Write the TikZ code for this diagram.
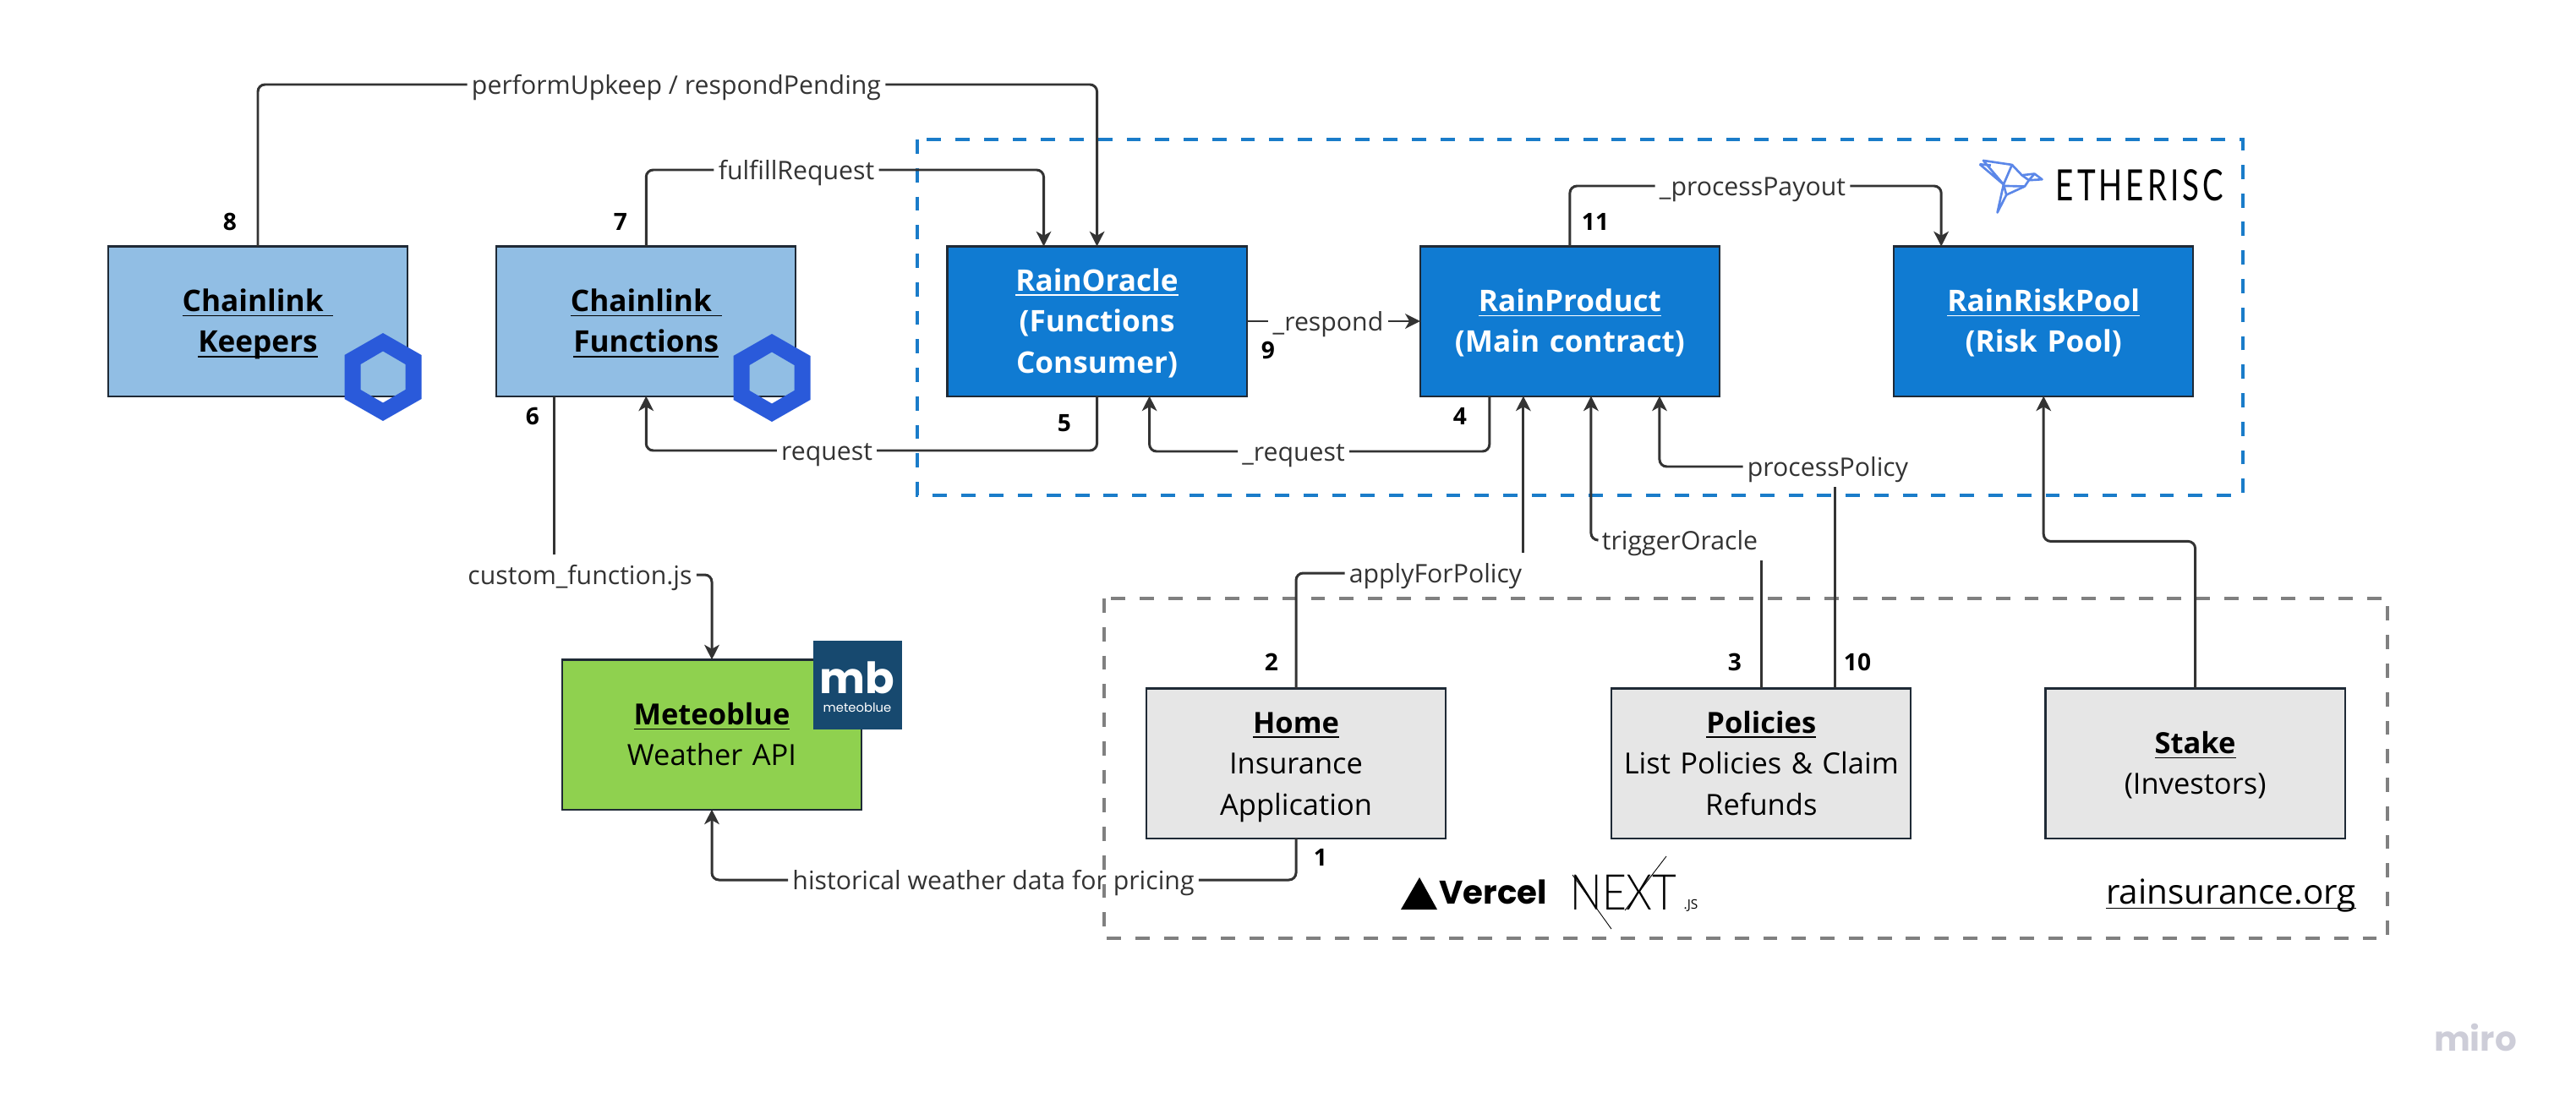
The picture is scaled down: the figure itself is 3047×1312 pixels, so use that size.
\documentclass[tikz,border=0pt]{standalone}
\usepackage{fontspec}
\setmainfont{Open Sans}
\newfontfamily\etherfont[LetterSpace=8,FakeStretch=0.72]{Lato}
\newfontfamily\brandfont{Poppins}
\newfontfamily\nextfont[FakeStretch=0.85]{Lato Light}
\usetikzlibrary{positioning,arrows.meta}
\definecolor{Line}{HTML}{333333}
\definecolor{Edge}{HTML}{1F2A36}
\definecolor{Contract}{HTML}{107BD2}
\definecolor{Chainlink}{HTML}{91BEE4}
\definecolor{Weather}{HTML}{8FD14F}
\definecolor{Site}{HTML}{E6E6E6}
\definecolor{Frame}{HTML}{1A7CC9}
\definecolor{Hex}{HTML}{2A5ADA}
\definecolor{Bird}{HTML}{5B87E8}
\definecolor{Mblue}{HTML}{17496F}
\definecolor{Mark}{HTML}{CDCDD8}
\newcommand{\ulbl}[1]{\underline{\smash{#1}}}

\begin{document}
\begin{tikzpicture}[
  x=0.01cm, y=-0.01cm,
  font=\fontsize{9.8}{13.8}\selectfont,
  box/.style={draw=Edge, line width=0.6pt, inner sep=0pt, outer sep=0pt, align=center, text width=3.54cm, minimum height=1.77cm,
    execute at begin node=\rule{0pt}{10pt}, execute at end node=\rule[-2.8pt]{0pt}{2.8pt}},
  contract/.style={box, fill=Contract, text=white, font=\fontsize{10}{13.8}\selectfont\bfseries},
  oracle/.style={box, fill=Chainlink, font=\fontsize{10}{13.8}\selectfont\bfseries},
  site/.style={box, fill=Site},
  arrow/.style={-{Stealth[length=5pt,width=5pt,inset=1.4pt]}, line width=0.85pt, color=Line, rounded corners=2.4pt},
  wire/.style={line width=0.85pt, color=Line, rounded corners=2.4pt},
  lbl/.style={inner sep=1.5pt, outer sep=0pt, text=Line, text height=8.6pt, text depth=2.2pt, font=\fontsize{8.6}{10}\selectfont},
  num/.style={inner sep=0pt, font=\fontsize{8}{10}\selectfont\bfseries},
  frame/.style={line width=1.3pt, dash pattern=on 4.8pt off 4.8pt},
  hexlogo/.pic={\fill[Hex, even odd rule] (0,-52) -- (45.5,-26) -- (45.5,26) -- (0,52) -- (-45.5,26) -- (-45.5,-26) -- cycle
    (0,-30.5) -- (26.5,-15) -- (26.5,15) -- (0,30.5) -- (-26.5,15) -- (-26.5,-15) -- cycle;}
]
  \useasboundingbox (0,0) rectangle (3047,1312);
  % frames
  \draw[frame, Frame] (1085,165) rectangle (2653,586);
  \draw[frame, gray] (1306,708) rectangle (2824,1110);

  % top row
  \node[oracle] (keepers) at (305,380) {\ulbl{Chainlink\ }\\\ulbl{Keepers}};
  \node[oracle, right=1.05cm of keepers] (functions) {\ulbl{Chainlink\ }\\\ulbl{Functions}};
  \node[contract, right=1.79cm of functions] (rainoracle) {\ulbl{RainOracle}\\(Functions\\Consumer)};
  \node[contract, right=2.05cm of rainoracle] (product) {\ulbl{RainProduct}\\(Main contract)};
  \node[contract, right=2.06cm of product] (riskpool) {\ulbl{RainRiskPool}\\(Risk Pool)};

  % bottom row
  \node[box, fill=Weather] (meteoblue) at (842,869) {\textbf{\ulbl{Meteoblue}}\\Weather API};
  \node[site] (home) at (1533,903) {\textbf{\ulbl{Home}}\\Insurance\\Application};
  \node[site, right=1.96cm of home] (policies) {\textbf{\ulbl{Policies}}\\List Policies \& Claim\\Refunds};
  \node[site, right=1.59cm of policies] (stake) {\textbf{\ulbl{Stake}}\\(Investors)};

  % labels
  \node[lbl] (upkeep) at (800,100) {performUpkeep / respondPending};
  \node[lbl] (fulfill) at (942,201) {fulfillRequest};
  \node[lbl] (payout) at (2073,220) {\_processPayout};
  \node[lbl] (respond) at (1571,380) {\_respond};
  \node[lbl] (request) at (978,533) {request};
  \node[lbl] (prequest) at (1530,534) {\_request};
  \node[lbl] (policy) at (2162,552) {processPolicy};
  \node[lbl] (trigger) at (1987,639) {triggerOracle};
  \node[lbl] (apply) at (1698,678) {applyForPolicy};
  \node[lbl] (custom) at (686,680) {custom\_function.js};
  \node[lbl] (history) at (1175,1041) {historical weather data for pricing};

  % connectors
  \draw[wire] (keepers.north) |- (upkeep.west);
  \draw[arrow] (upkeep.east) -| (rainoracle.north);
  \draw[wire] (functions.north) |- (fulfill.west);
  \draw[arrow] (fulfill.east) -| ([xshift=-0.63cm]rainoracle.north);
  \draw[wire] (rainoracle.south) |- (request.east);
  \draw[arrow] (request.west) -| (functions.south);
  \draw[wire] ([xshift=-0.95cm]product.south) |- (prequest.east);
  \draw[arrow] (prequest.west) -| ([xshift=0.62cm]rainoracle.south);
  \draw[wire] (rainoracle.east) -- (respond.west);
  \draw[arrow] (respond.east) -- (product.west);
  \draw[wire] (product.north) |- (payout.west);
  \draw[arrow] (payout.east) -| ([xshift=-1.21cm]riskpool.north);
  \draw[wire] (home.north) |- (apply.west);
  \draw[arrow] ([xshift=-0.55cm]product.south |- apply.north) -- ([xshift=-0.55cm]product.south);
  \draw[wire] (policies.north) -- (policies.north |- trigger.south);
  \draw[arrow] (trigger.west) -| ([xshift=0.25cm]product.south);
  \draw[wire] ([xshift=0.87cm]policies.north) -- ([xshift=0.87cm]policies.north |- policy.south);
  \draw[arrow] (policy.west) -| ([xshift=1.06cm]product.south);
  \draw[arrow] (stake.north) -- ++(0,-174) -| (riskpool.south);
  \draw[wire] ([xshift=-1.09cm]functions.south) -- ([xshift=-1.09cm]functions.south |- custom.north);
  \draw[arrow] (custom.east) -| (meteoblue.north);
  \draw[wire] (home.south) |- (history.east);
  \draw[arrow] (history.west) -| (meteoblue.south);

  % step numbers
  \node[num] (n8) at (272,262) {8};
  \node[num] (n7) at (734,262) {7};
  \node[num] (n11) at (1887,262) {11};
  \node[num] (n9) at (1500,414) {9};
  \node[num] (n6) at (630,492) {6};
  \node[num] (n4) at (1727,492) {4};
  \node[num] (n5) at (1259,501) {5};
  \node[num] (n2) at (1504,783) {2};
  \node[num] (n3) at (2052,783) {3};
  \node[num] (n10) at (2197,783) {10};
  \node[num] (n1) at (1562,1014) {1};

  % logos
  \pic at (453,446) {hexlogo};
  \pic at (913,447) {hexlogo};
  \node[fill=Mblue, minimum size=1.05cm, inner sep=0pt] (mbbox) at (1014.5,810.5) {};
  \node[inner sep=0pt, text=white, font=\brandfont\bfseries\fontsize{14.5}{15}\selectfont] (mb) at (1014,802) {mb};
  \node[inner sep=0pt, text=white, font=\brandfont\fontsize{4.2}{5}\selectfont] (mbtext) at (1014,837) {meteoblue};
  \node[inner sep=0pt, anchor=west, font=\etherfont\fontsize{14.5}{14.5}\selectfont] (ether) at (2431,219) {ETHERISC};
  \begin{scope}[shift={(2300,150)}, x=0.00333cm, y=-0.00333cm, draw=Bird, line width=0.75pt, line join=round]
    \draw (125,133) -- (210,205) -- (138,120) -- (240,135) -- (210,205) -- (188,305) -- (220,242) -- (285,212) -- (300,190) -- (347,187) -- (320,167) -- (275,172) -- (240,135);
    \draw (125,133) -- (165,137);
    \draw (275,172) -- (300,190) -- (320,167);
    \draw (210,210) -- (285,212);
    \draw (210,205) -- (220,242);
  \end{scope}
  \fill (1657,1076) -- (1700,1076) -- (1679,1038) -- cycle;
  \node[inner sep=0pt, anchor=west, font=\brandfont\bfseries\fontsize{11}{11}\selectfont] (vercel) at (1702,1055) {Vercel};
  \node[inner sep=0pt, anchor=west, font=\nextfont\fontsize{16.6}{17}\selectfont] (next) at (1857,1056) {NEXT};
  \node[inner sep=0pt, font=\fontsize{4.4}{5}\selectfont] (nextjs) at (2000,1071) {.JS};
  \draw[line width=0.25pt] (1860,1035) -- (1906,1099);
  \draw[line width=0.25pt] (1971,1013) -- (1922,1077);
  \node[inner sep=0pt, font=\fontsize{11.5}{12}\selectfont] (domain) at (2639,1073) {\ulbl{rainsurance.org}};
  \node[inner sep=0pt, text=Mark, font=\brandfont\bfseries\fontsize{11.5}{12}\selectfont] (miro) at (2928,1227) {miro};
\end{tikzpicture}
\end{document}
